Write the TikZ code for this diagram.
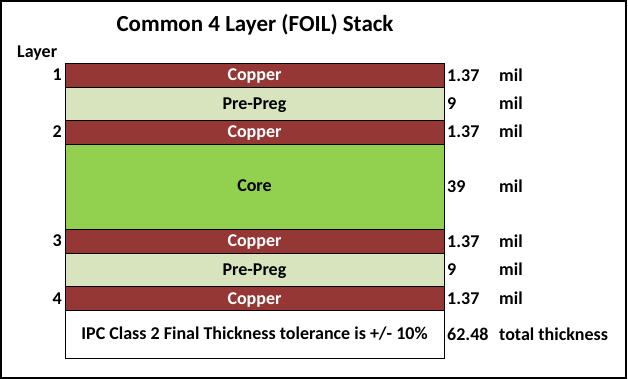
\documentclass[tikz,border=0pt]{standalone}
\usepackage{fontspec}
\setmainfont{Carlito}
\definecolor{cuRed}{HTML}{953735}
\definecolor{ppGreen}{HTML}{D7E4BD}
\definecolor{coreGreen}{HTML}{92D050}

\begin{document}
\begin{tikzpicture}[x=1pt,y=-1pt,font=\bfseries\fontsize{18}{21}\selectfont,
  layer/.style={draw=black,line width=0.8pt},
  mat/.style={inner sep=0pt,anchor=base},
  lbl/.style={inner sep=0pt,anchor=base west},
  num/.style={inner sep=0pt,anchor=base east}]
  \useasboundingbox (0,0) rectangle (628,379);
  \draw[line width=1.2pt] (1,1) rectangle (626,378);
  \node[font=\bfseries\fontsize{23}{27}\selectfont] (title) at (255,25) {Common 4 Layer (FOIL) Stack};
  \node[lbl] (layerhd) at (17,58) {Layer};
  % stack
  \draw[layer,fill=cuRed] (65,63) rectangle (444,87);
  \node[mat,white] (cu1) at (254.5,81) {Copper};
  \draw[layer,fill=ppGreen] (65,87) rectangle (444,120);
  \node[mat] (pp1) at (254.5,110) {Pre-Preg};
  \draw[layer,fill=cuRed] (65,120) rectangle (444,144);
  \node[mat,white] (cu2) at (254.5,138) {Copper};
  \draw[layer,fill=coreGreen] (65,144) rectangle (444,229);
  \node[mat] (core) at (254.5,192) {Core};
  \draw[layer,fill=cuRed] (65,229) rectangle (444,253);
  \node[mat,white] (cu3) at (254.5,246.5) {Copper};
  \draw[layer,fill=ppGreen] (65,253) rectangle (444,286);
  \node[mat] (pp2) at (254.5,275.5) {Pre-Preg};
  \draw[layer,fill=cuRed] (65,286) rectangle (444,310);
  \node[mat,white] (cu4) at (254.5,304) {Copper};
  \draw[layer,fill=white] (65,310) rectangle (444,358);
  \node[mat] (tol) at (254.5,339.5) {IPC Class 2 Final Thickness tolerance is +/- 10\%};
  % layer numbers
  \node[num] (n1) at (62,81) {1};
  \node[num] (n2) at (62,138) {2};
  \node[num] (n3) at (62,246.5) {3};
  \node[num] (n4) at (62,304) {4};
  % thickness
  \node[lbl] (t1) at (447,81.5) {1.37};
  \node[lbl] (u1) at (499,81.5) {mil};
  \node[lbl] (t2) at (447,110) {9};
  \node[lbl] (u2) at (499,110) {mil};
  \node[lbl] (t3) at (447,138) {1.37};
  \node[lbl] (u3) at (499,138) {mil};
  \node[lbl] (t4) at (447,192.5) {39};
  \node[lbl] (u4) at (499,192.5) {mil};
  \node[lbl] (t5) at (447,247) {1.37};
  \node[lbl] (u5) at (499,247) {mil};
  \node[lbl] (t6) at (447,275) {9};
  \node[lbl] (u6) at (499,275) {mil};
  \node[lbl] (t7) at (447,304) {1.37};
  \node[lbl] (u7) at (499,304) {mil};
  \node[lbl] (tot) at (447,340) {62.48};
  \node[lbl] (totlbl) at (499,340) {total thickness};
\end{tikzpicture}
\end{document}
